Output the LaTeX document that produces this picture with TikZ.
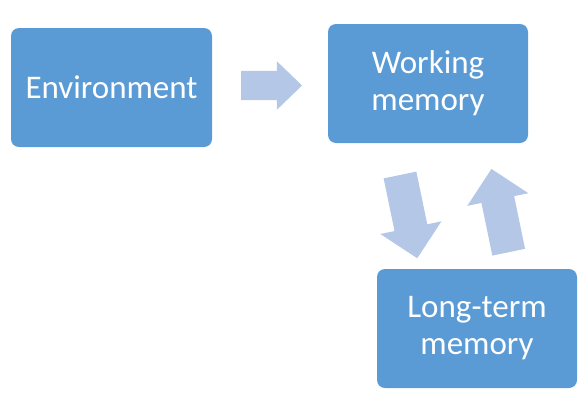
\documentclass[tikz,border=0pt]{standalone}
\usepackage{fontspec}
\setmainfont{Carlito}
\usepackage{tikz}
\usetikzlibrary{shapes.arrows}
\definecolor{boxblue}{HTML}{5B9BD5}
\definecolor{arrowblue}{HTML}{B4C7E7}

\begin{document}
\begin{tikzpicture}[x=1pt, y=1pt,
		box/.style={fill=boxblue, rounded corners=8pt, text=white, align=center,
			minimum width=200pt, minimum height=119pt, inner sep=0pt,
			font=\fontsize{33}{37}\selectfont},
		blockarrow/.style={single arrow, fill=arrowblue, draw=none, anchor=tail,
			inner xsep=0pt, outer sep=0pt, minimum width=0pt},
		sidearrow/.style={blockarrow, inner ysep=14.5pt, single arrow head extend=9.5pt,
			minimum height=61pt, single arrow tip angle=88},
		looparrow/.style={blockarrow, inner ysep=16.5pt, single arrow head extend=14.5pt,
			minimum height=85pt, single arrow tip angle=90}]
		
		\useasboundingbox (0,0) rectangle (584,-402);
		
		% the three stores
		\node[box, minimum width=201pt] (env) at (111.5,-87.5) {Environment};
		\node[box] (wm) at (428,-83.5) {Working\\memory};
		\node[box] (ltm) at (477,-328.5) {Long-term\\memory};
		
		% flow between them
		\node[sidearrow] (envtowm) at (241,-85.5) {};
		\node[looparrow, rotate=-78.3] (wmtoltm) at (400,-175) {};
		\node[looparrow, rotate=101.7] (ltmtowm) at (508.7,-252.2) {};
		
	\end{tikzpicture}
\end{document}
